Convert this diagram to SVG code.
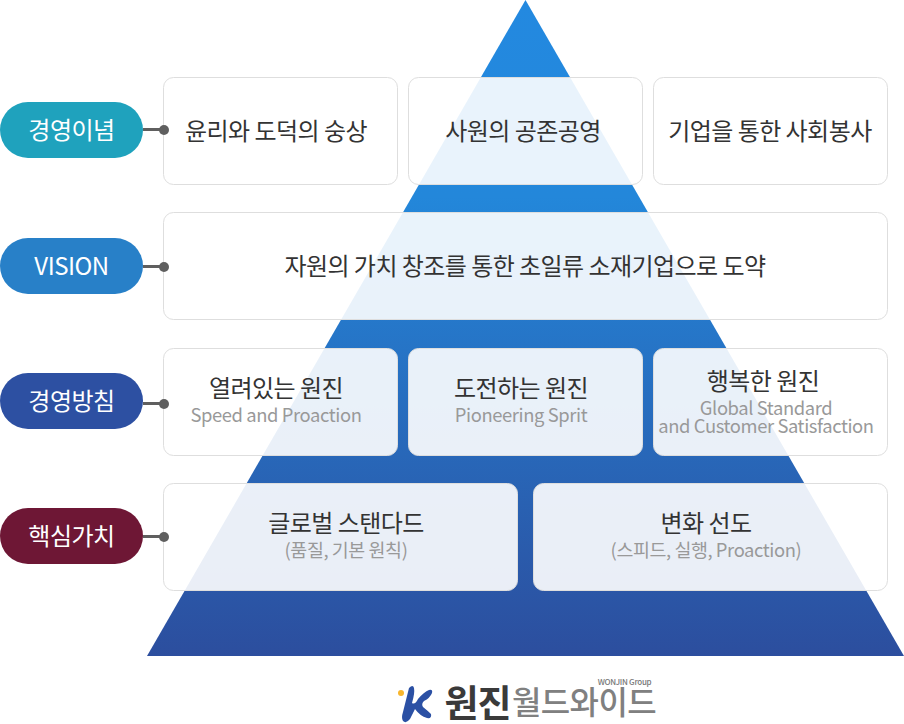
<svg xmlns="http://www.w3.org/2000/svg" width="904" height="724" viewBox="0 0 904 724">
<style>
text{font-family:"Noto Sans CJK KR","Noto Sans",sans-serif;text-anchor:middle}
.box{fill:#fff;fill-opacity:.9;stroke:#dedede;stroke-width:1}
.t{font-size:24px;fill:#333;letter-spacing:-.55px}
.s{font-size:18.400px;fill:#999;letter-spacing:-.4px}
.p{font-size:24px;fill:#fff;letter-spacing:-.5px}
.ln{stroke:#5f5f5f;stroke-width:3;fill:none}
.dot{fill:#5f5f5f}
</style>
<defs>
<linearGradient id="g" x1="0" y1="0" x2="0" y2="1"><stop offset="0" stop-color="#2389e0"/><stop offset=".3" stop-color="#2387da"/><stop offset="1" stop-color="#2c4e9e"/></linearGradient>
</defs>
<rect width="904" height="724" fill="#fff"/>
<polygon id="pyramid" points="525.500,0 904,656 147,656" fill="url(#g)"/>
<g id="p1"><rect x="0" y="102" width="143" height="56" rx="28" fill="#1fa2bd"/><text class="p" x="71.500" y="138.500">경영이념</text></g>
<g id="p2"><rect x="0" y="238" width="143" height="56" rx="28" fill="#2880c8"/><text class="p" x="71.500" y="275">VISION</text></g>
<g id="p3"><rect x="0" y="373" width="143" height="56" rx="28" fill="#2d50a2"/><text class="p" x="71.500" y="409.500">경영방침</text></g>
<g id="p4"><rect x="0" y="508" width="143" height="56" rx="28" fill="#6e1735"/><text class="p" x="71.500" y="544.500">핵심가치</text></g>
<g id="b1"><rect class="box" x="163.500" y="77.500" width="234" height="107" rx="10"/><text class="t" x="276" y="139.500">윤리와 도덕의 숭상</text></g>
<g id="b2"><rect class="box" x="408.500" y="77.500" width="234" height="107" rx="10"/><text class="t" x="523" y="139.500">사원의 공존공영</text></g>
<g id="b3"><rect class="box" x="653.500" y="77.500" width="234" height="107" rx="10"/><text class="t" x="770" y="139.500">기업을 통한 사회봉사</text></g>
<g id="b4"><rect class="box" x="163.500" y="212.500" width="724" height="107" rx="10"/><text class="t" x="525" y="275">자원의 가치 창조를 통한 초일류 소재기업으로 도약</text></g>
<g id="b5"><rect class="box" x="163.500" y="348.500" width="234" height="107" rx="10"/><text class="t" x="276" y="397">열려있는 원진</text><text class="s" x="276" y="422">Speed and Proaction</text></g>
<g id="b6"><rect class="box" x="408.500" y="348.500" width="234" height="107" rx="10"/><text class="t" x="521" y="397">도전하는 원진</text><text class="s" x="521" y="422">Pioneering Sprit</text></g>
<g id="b7"><rect class="box" x="653.500" y="348.500" width="234" height="107" rx="10"/><text class="t" x="763" y="390">행복한 원진</text><text class="s" x="766" y="415">Global Standard</text><text class="s" x="766" y="433">and Customer Satisfaction</text></g>
<g id="b8"><rect class="box" x="163.500" y="483.500" width="354" height="107" rx="10"/><text class="t" x="346" y="532">글로벌 스탠다드</text><text class="s" x="346" y="557">(품질, 기본 원칙)</text></g>
<g id="b9"><rect class="box" x="533.500" y="483.500" width="354" height="107" rx="10"/><text class="t" x="706" y="532">변화 선도</text><text class="s" x="706" y="557">(스피드, 실행, Proaction)</text></g>
<g id="connectors">
<path class="ln" d="M143 129.500H164"/><circle class="dot" cx="164" cy="130" r="5"/>
<path class="ln" d="M143 266.500H164"/><circle class="dot" cx="164" cy="267" r="5"/>
<path class="ln" d="M143 403.500H164"/><circle class="dot" cx="164" cy="404" r="5"/>
<path class="ln" d="M143 536.500H164"/><circle class="dot" cx="164" cy="537" r="5"/>
</g>
<g id="logo">
<circle cx="401" cy="693" r="3" fill="#f8b62d"/>
<path d="M409 688Q413 684 414 688Q415 693 412 703Q415 705 418 699Q424 692 429 690Q433 689 432 693Q430 698 424 701Q421 704 423 707Q428 711 431 714Q432 719 427 718Q420 716 415 709L410 719Q406 724 403 721Q401 718 403 712Z" fill="#2b50a4"/>
<text x="477.500" y="717" style="font-size:37px;font-weight:700;fill:#3a3a3a;letter-spacing:-1px">원진</text>
<text x="584" y="714" style="font-size:32px;font-weight:500;fill:#808080;letter-spacing:-.6px">월드와이드</text>
<text x="624.500" y="685" style="font-size:8px;font-weight:500;fill:#777;letter-spacing:-.3px">WONJIN Group</text>
</g>
</svg>
